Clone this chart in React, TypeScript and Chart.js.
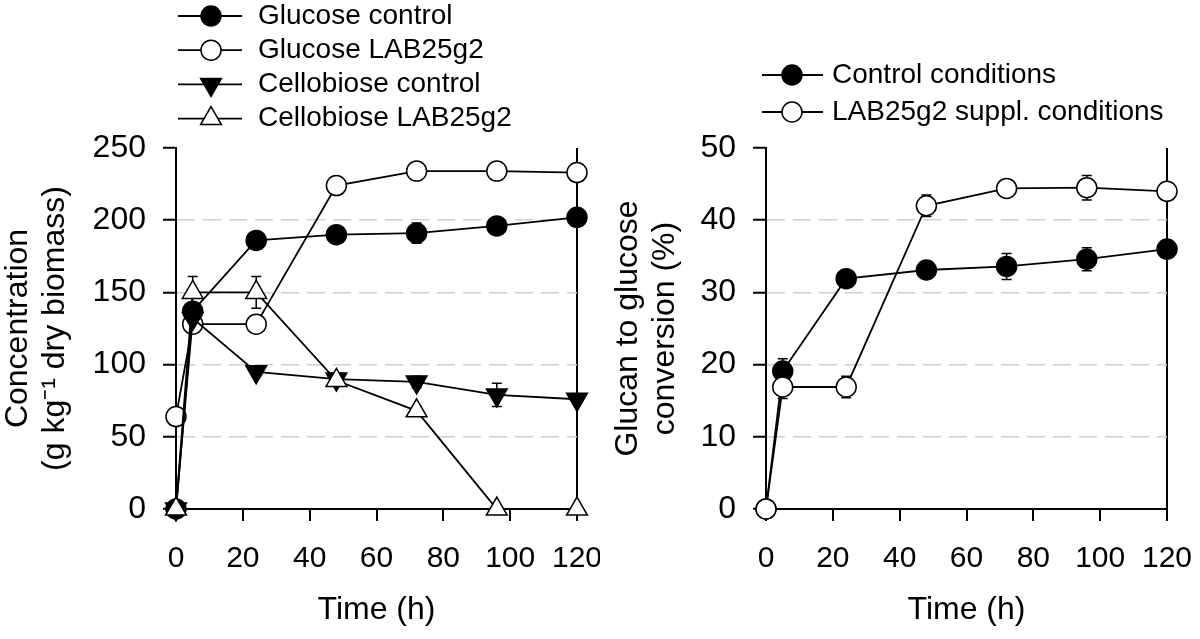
import React, { useEffect, useRef } from 'react';
import { Chart, registerables } from 'chart.js';

Chart.register(...registerables);

const FONT = "'Liberation Sans', Arial, Helvetica, sans-serif";
Chart.defaults.font.family = FONT;
Chart.defaults.color = '#000';

// ---- shared x data ----
const TIME_H = [0, 5, 24, 48, 72, 96, 120];
const X_MIN = 0;
const X_MAX = 120;
const X_STEP = 20;

// ---- left panel: concentration (g kg-1 dry biomass) ----
const LEFT_Y_MAX = 250;
const LEFT_Y_STEP = 50;
const GLUCOSE_CONTROL = [0, 137, 186, 190, 191, 196, 202];
const GLUCOSE_CONTROL_ERR = [0, 4, 3, 3, 7, 4, 3];
const GLUCOSE_LAB = [64, 128, 128, 224, 234, 234, 233];
const GLUCOSE_LAB_ERR = [0, 3, 3, 3, 3, 3, 3];
const CELLOBIOSE_CONTROL = [0, 132, 95, 90, 88, 79, 76];
const CELLOBIOSE_CONTROL_ERR = [0, 5, 3, 4, 4, 8, 3];
const CELLOBIOSE_LAB = [0, 150, 150, 89, 68, 0, 0];
const CELLOBIOSE_LAB_ERR = [0, 11, 11, 4, 3, 0, 0];

// ---- right panel: glucan to glucose conversion (%) ----
const RIGHT_Y_MAX = 50;
const RIGHT_Y_STEP = 10;
const CONVERSION_CONTROL = [0, 19.1, 31.9, 33.1, 33.6, 34.6, 36.0];
const CONVERSION_CONTROL_ERR = [0, 1.7, 0.5, 0.5, 1.8, 1.6, 0.5];
const CONVERSION_LAB = [0, 16.9, 16.9, 42.0, 44.4, 44.5, 44.0];
const CONVERSION_LAB_ERR = [0, 1.6, 1.5, 1.5, 0.5, 1.7, 0.5];

type Series = {
  label: string;
  values: number[];
  style: 'circle' | 'triangle';
  filled: boolean;
  down?: boolean;
  order: number;
};

function toDataset(s: Series) {
  const isTri = s.style === 'triangle';
  return {
    label: s.label,
    data: TIME_H.map((t, i) => ({ x: t, y: s.values[i] })),
    borderColor: '#000',
    borderWidth: 1.8,
    pointStyle: s.style,
    pointRadius: isTri ? 12 : 10,
    pointHoverRadius: isTri ? 12 : 10,
    pointRotation: s.down ? 180 : 0,
    pointBackgroundColor: s.filled ? '#000' : '#fff',
    pointBorderColor: '#000',
    pointBorderWidth: 1.5,
    tension: 0,
    fill: false,
    clip: false as any,
    order: s.order,
  };
}

function drawMarker(
  ctx: CanvasRenderingContext2D,
  style: string,
  x: number,
  y: number,
  r: number,
  rotDeg: number,
  fill: string,
  stroke: string,
  lw: number
) {
  ctx.save();
  ctx.translate(x, y);
  ctx.rotate((rotDeg * Math.PI) / 180);
  ctx.beginPath();
  if (style === 'triangle') {
    for (let k = 0; k < 3; k++) {
      const a = (k * 2 * Math.PI) / 3;
      const px = Math.sin(a) * r;
      const py = -Math.cos(a) * r;
      if (k === 0) ctx.moveTo(px, py);
      else ctx.lineTo(px, py);
    }
    ctx.closePath();
  } else {
    ctx.arc(0, 0, r, 0, Math.PI * 2);
  }
  ctx.fillStyle = fill;
  ctx.fill();
  ctx.lineWidth = lw;
  ctx.strokeStyle = stroke;
  ctx.stroke();
  ctx.restore();
}

function makeErrorBarsPlugin(errors: number[][]) {
  return {
    id: 'errorBars',
    beforeDatasetsDraw(chart: any) {
      const ctx: CanvasRenderingContext2D = chart.ctx;
      const ys = chart.scales.y;
      ctx.save();
      ctx.strokeStyle = '#000';
      ctx.lineWidth = 1.5;
      chart.data.datasets.forEach((ds: any, i: number) => {
        const e = errors[i];
        if (!e) return;
        const meta = chart.getDatasetMeta(i);
        meta.data.forEach((pt: any, j: number) => {
          const err = e[j];
          if (!err) return;
          const v = ds.data[j].y;
          const x = pt.x;
          const yTop = ys.getPixelForValue(v + err);
          const yBot = ys.getPixelForValue(Math.max(0, v - err));
          ctx.beginPath();
          ctx.moveTo(x, yTop);
          ctx.lineTo(x, yBot);
          ctx.moveTo(x - 5, yTop);
          ctx.lineTo(x + 5, yTop);
          ctx.moveTo(x - 5, yBot);
          ctx.lineTo(x + 5, yBot);
          ctx.stroke();
        });
      });
      ctx.restore();
    },
  };
}

type LegendLayout = {
  items: number[];
  x0: number;
  x1: number;
  xm: number;
  xt: number;
  y0: number;
  dy: number;
};

function makeLegendPlugin(lay: LegendLayout) {
  return {
    id: 'markerLegend',
    afterDraw(chart: any) {
      const ctx: CanvasRenderingContext2D = chart.ctx;
      ctx.save();
      lay.items.forEach((idx, row) => {
        const ds = chart.data.datasets[idx];
        const y = lay.y0 + row * lay.dy;
        ctx.beginPath();
        ctx.moveTo(lay.x0, y);
        ctx.lineTo(lay.x1, y);
        ctx.strokeStyle = '#000';
        ctx.lineWidth = 1.8;
        ctx.stroke();
        drawMarker(
          ctx,
          ds.pointStyle,
          lay.xm,
          y,
          ds.pointRadius,
          ds.pointRotation || 0,
          ds.pointBackgroundColor,
          ds.pointBorderColor,
          ds.pointBorderWidth
        );
        ctx.fillStyle = '#000';
        ctx.font = `28px ${FONT}`;
        ctx.textAlign = 'left';
        ctx.textBaseline = 'middle';
        ctx.fillText(ds.label, lay.xt, y);
      });
      ctx.restore();
    },
  };
}

const TRANSPARENT = 'rgba(0,0,0,0)';

function buildScales(opts: {
  yMax: number;
  yStep: number;
  yTitle: string[];
  yTitlePad: number;
  yWidth: number;
}) {
  return {
    x: {
      type: 'linear',
      min: X_MIN,
      max: X_MAX,
      ticks: {
        stepSize: X_STEP,
        font: { size: 30, family: FONT },
        color: '#000',
        padding: 20,
        maxRotation: 0,
        autoSkip: false,
      },
      grid: {
        color: (c: any) => (c.tick && c.tick.value === X_MAX ? '#000' : TRANSPARENT),
        lineWidth: 2,
        drawTicks: true,
        tickLength: 12,
        tickColor: '#000',
        tickWidth: 2,
        tickBorderDash: [],
      },
      border: { display: true, color: '#000', width: 2, dash: [] },
      title: {
        display: true,
        text: 'Time (h)',
        color: '#000',
        font: { size: 32, family: FONT, lineHeight: 1.2 },
        padding: { top: 0, bottom: 10 },
      },
      afterFit: (s: any) => {
        s.height = 130;
        s.paddingLeft = 0;
        s.paddingRight = 0;
      },
    },
    y: {
      type: 'linear',
      min: 0,
      max: opts.yMax,
      ticks: {
        stepSize: opts.yStep,
        font: { size: 32, family: FONT },
        color: '#000',
        padding: 17,
      },
      grid: {
        color: (c: any) =>
          c.tick && (c.tick.value === 0 || c.tick.value === opts.yMax) ? TRANSPARENT : '#cfcfcf',
        lineWidth: 1.5,
        drawTicks: true,
        tickLength: 13,
        tickColor: '#000',
        tickWidth: 2,
        tickBorderDash: [],
      },
      border: { display: true, color: '#000', width: 2, dash: [18, 8] },
      title: {
        display: true,
        text: opts.yTitle,
        color: '#000',
        font: { size: 32, family: FONT, lineHeight: 1.15 },
        padding: { top: opts.yTitlePad, bottom: 0 },
      },
      afterFit: (s: any) => {
        s.width = opts.yWidth;
        s.paddingTop = 0;
        s.paddingBottom = 0;
      },
    },
  };
}

function leftConfig(): any {
  const series: Series[] = [
    { label: 'Glucose control', values: GLUCOSE_CONTROL, style: 'circle', filled: true, order: 2 },
    { label: 'Glucose LAB25g2', values: GLUCOSE_LAB, style: 'circle', filled: false, order: 3 },
    { label: 'Cellobiose control', values: CELLOBIOSE_CONTROL, style: 'triangle', filled: true, down: true, order: 1 },
    { label: 'Cellobiose LAB25g2', values: CELLOBIOSE_LAB, style: 'triangle', filled: false, order: 0 },
  ];
  const errors = [GLUCOSE_CONTROL_ERR, GLUCOSE_LAB_ERR, CELLOBIOSE_CONTROL_ERR, CELLOBIOSE_LAB_ERR];
  return {
    type: 'line',
    data: { datasets: series.map(toDataset) },
    options: {
      animation: false,
      responsive: false,
      maintainAspectRatio: false,
      devicePixelRatio: 1,
      layout: { padding: { left: 0, top: 148, right: 23, bottom: 0 } },
      plugins: { legend: { display: false }, tooltip: { enabled: false } },
      scales: buildScales({
        yMax: LEFT_Y_MAX,
        yStep: LEFT_Y_STEP,
        yTitle: ['Concentration', '(g kg\u207B\u00B9 dry biomass)'],
        yTitlePad: 0,
        yWidth: 176,
      }),
    },
    plugins: [
      makeErrorBarsPlugin(errors),
      makeLegendPlugin({ items: [0, 1, 2, 3], x0: 178, x1: 242, xm: 211, xt: 258, y0: 16, dy: 34.2 }),
    ],
  };
}

function rightConfig(): any {
  const series: Series[] = [
    { label: 'Control conditions', values: CONVERSION_CONTROL, style: 'circle', filled: true, order: 1 },
    { label: 'LAB25g2 suppl. conditions', values: CONVERSION_LAB, style: 'circle', filled: false, order: 0 },
  ];
  const errors = [CONVERSION_CONTROL_ERR, CONVERSION_LAB_ERR];
  return {
    type: 'line',
    data: { datasets: series.map(toDataset) },
    options: {
      animation: false,
      responsive: false,
      maintainAspectRatio: false,
      devicePixelRatio: 1,
      layout: { padding: { left: 0, top: 148, right: 33, bottom: 0 } },
      plugins: { legend: { display: false }, tooltip: { enabled: false } },
      scales: buildScales({
        yMax: RIGHT_Y_MAX,
        yStep: RIGHT_Y_STEP,
        yTitle: ['Glucan to glucose', 'conversion (%)'],
        yTitlePad: 10,
        yWidth: 166,
      }),
    },
    plugins: [
      makeErrorBarsPlugin(errors),
      makeLegendPlugin({ items: [0, 1], x0: 162, x1: 223, xm: 192, xt: 232, y0: 75, dy: 37 }),
    ],
  };
}

function ChartPanel({ left, width, build }: { left: number; width: number; build: () => any }) {
  const ref = useRef<HTMLCanvasElement>(null);
  useEffect(() => {
    if (!ref.current) return;
    const chart = new Chart(ref.current, build());
    return () => chart.destroy();
  }, []);
  return (
    <div style={{ position: 'absolute', left, top: 0, width, height: 639 }}>
      <canvas ref={ref} width={width} height={639} style={{ display: 'block', width, height: 639 }} />
    </div>
  );
}

export default function App() {
  return (
    <div
      style={{
        position: 'fixed',
        left: 0,
        top: 0,
        width: 1200,
        height: 639,
        background: '#fff',
        overflow: 'hidden',
      }}
    >
      <ChartPanel left={0} width={600} build={leftConfig} />
      <ChartPanel left={600} width={600} build={rightConfig} />
    </div>
  );
}
